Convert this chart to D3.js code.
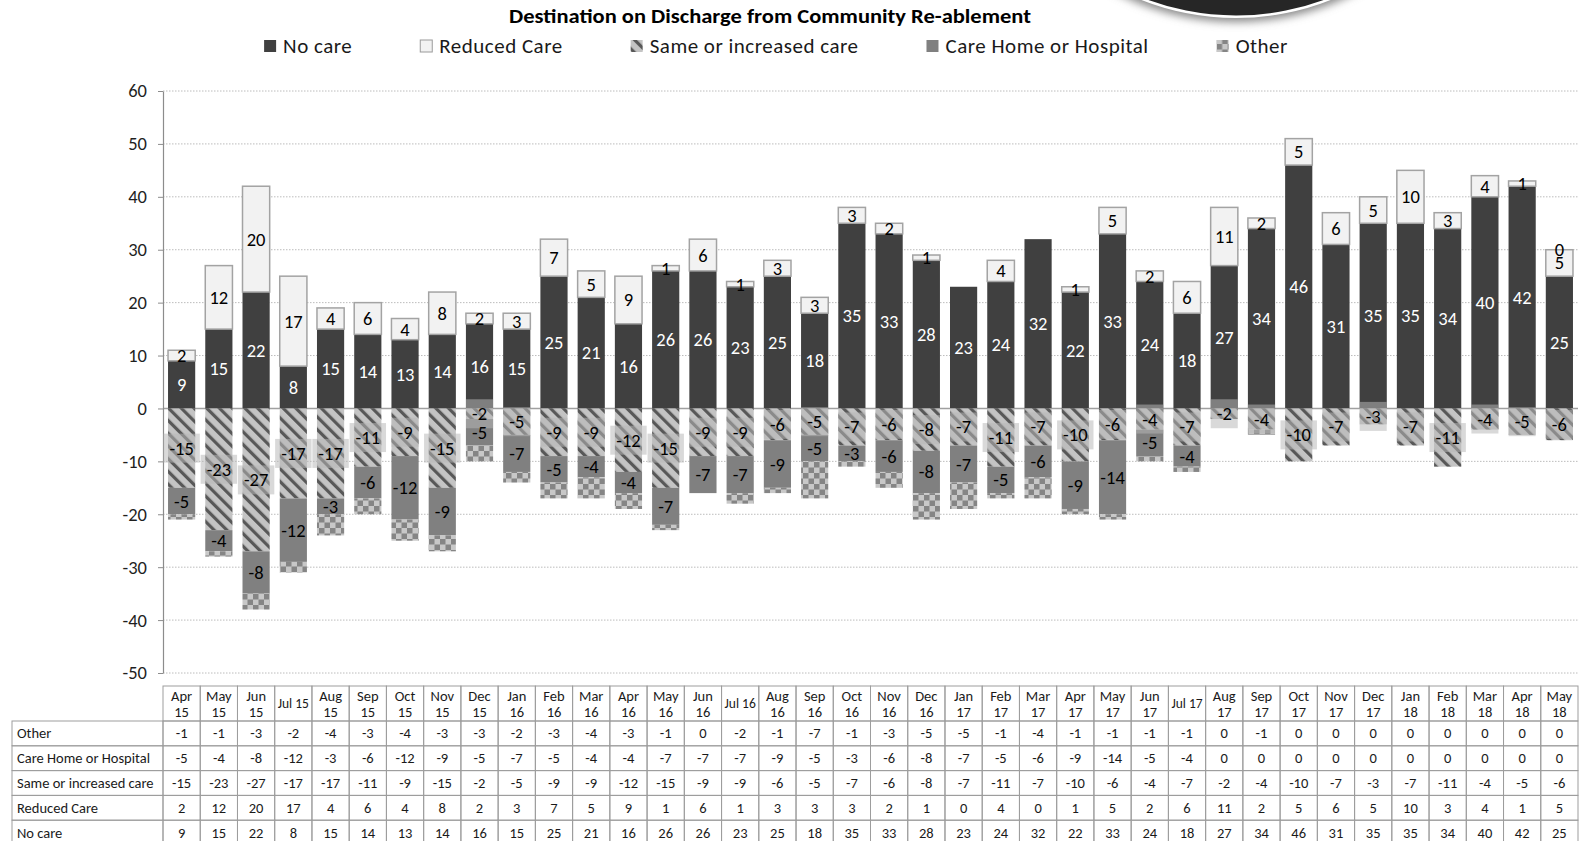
<!DOCTYPE html>
<html><head><meta charset="utf-8">
<script src="https://cdn.jsdelivr.net/npm/d3@7"></script>
<style>
html,body{margin:0;padding:0;background:#fff;}
svg{display:block;font-family:Carlito, Lato, "Open Sans", sans-serif;}
</style></head><body>
<svg id="chart" width="1587" height="841"></svg>
<script>
// ---------------- DATA ----------------
const categories = ["Apr 15","May 15","Jun 15","Jul 15","Aug 15","Sep 15","Oct 15","Nov 15","Dec 15",
  "Jan 16","Feb 16","Mar 16","Apr 16","May 16","Jun 16","Jul 16","Aug 16","Sep 16","Oct 16","Nov 16","Dec 16",
  "Jan 17","Feb 17","Mar 17","Apr 17","May 17","Jun 17","Jul 17","Aug 17","Sep 17","Oct 17","Nov 17","Dec 17",
  "Jan 18","Feb 18","Mar 18","Apr 18","May 18"];
const noCare = [9,15,22,8,15,14,13,14,16,15, 25,21,16,26,26,23,25,18,35,33,28,23,24,32, 22,33,24,18,27,34,46,31,35,35,34,40,42,25];
const reducedCare = [2,12,20,17,4,6,4,8,2,3, 7,5,9,1,6,1,3,3,3,2,1,0,4,0, 1,5,2,6,11,2,5,6,5,10,3,4,1,5];
const sameOrIncreasedCare = [-15,-23,-27,-17,-17,-11,-9,-15,-2,-5, -9,-9,-12,-15,-9,-9,-6,-5,-7,-6,-8,-7,-11,-7, -10,-6,-4,-7,-2,-4,-10,-7,-3,-7,-11,-4,-5,-6];
const careHomeOrHospital = [-5,-4,-8,-12,-3,-6,-12,-9,-5,-7, -5,-4,-4,-7,-7,-7,-9,-5,-3,-6,-8,-7,-5,-6, -9,-14,-5,-4,0,0,0,0,0,0,0,0,0,0];
const other = [-1,-1,-3,-2,-4,-3,-4,-3,-3,-2, -3,-4,-3,-1,0,-2,-1,-7,-1,-3,-5,-5,-1,-4, -1,-1,-1,-1,0,-1,0,0,0,0,0,0,0,0];
// stray zero-valued label that sits on top of the last column in the source
const strayTopLabel = [null,null,null,null,null,null,null,null,null,null,null,null,null,null,null,null,null,null,null,null,null,null,null,null,null,null,null,null,null,null,null,null,null,null,null,null,null,0];
const seriesNames = ["No care","Reduced Care","Same or increased care","Care Home or Hospital","Other"];
const yTicks = [-50,-40,-30,-20,-10,0,10,20,30,40,50,60];
const title = "Destination on Discharge from Community Re-ablement";

// ---------------- SETUP ----------------
const svg = d3.select("#chart");
const defs = svg.append("defs");

const hatch = defs.append("pattern").attr("id","hatch").attr("patternUnits","userSpaceOnUse")
  .attr("width",9).attr("height",9).attr("patternTransform","rotate(-45)");
hatch.append("rect").attr("width",9).attr("height",9).attr("fill","#c4c4c4");
hatch.append("rect").attr("width",3.2).attr("height",9).attr("fill","#585858");

const checker = defs.append("pattern").attr("id","checker").attr("patternUnits","userSpaceOnUse")
  .attr("width",11).attr("height",11);
checker.append("rect").attr("width",11).attr("height",11).attr("fill","#c8c8c8");
checker.append("rect").attr("width",5.5).attr("height",5.5).attr("fill","#858585");
checker.append("rect").attr("x",5.5).attr("y",5.5).attr("width",5.5).attr("height",5.5).attr("fill","#858585");

const shadow = defs.append("filter").attr("id","blur").attr("x","-20%").attr("y","-20%").attr("width","140%").attr("height","140%");
shadow.append("feGaussianBlur").attr("stdDeviation",4);

const styles = {
  "No care": {fill:"#404040", stroke:"none", label:"#ffffff"},
  "Reduced Care": {fill:"#f2f2f2", stroke:"#a3a3a3", label:"#000"},
  "Same or increased care": {fill:"url(#hatch)", stroke:"none", label:"#000"},
  "Care Home or Hospital": {fill:"#808080", stroke:"none", label:"#000"},
  "Other": {fill:"url(#checker)", stroke:"none", label:null}
};

const valuesBySeries = {
  "No care": noCare, "Reduced Care": reducedCare, "Same or increased care": sameOrIncreasedCare,
  "Care Home or Hospital": careHomeOrHospital, "Other": other
};
const rows = categories.map((c,i)=>{
  const r = {cat:c};
  seriesNames.forEach(k=>r[k]=valuesBySeries[k][i]);
  return r;
});
const stacked = d3.stack().keys(seriesNames).offset(d3.stackOffsetDiverging)(rows);

const left = 163, right = 1578;
const x = d3.scaleBand().domain(categories).range([left,right]).paddingInner(0.27).paddingOuter(0.135);
const y = d3.scaleLinear().domain([-50,60]).range([673,91]);

// decoration circle (top right)
const deco = svg.append("g");
deco.append("circle").attr("cx",1236).attr("cy",-240).attr("r",262).attr("fill","#8a8a8a").attr("filter","url(#blur)");
deco.append("circle").attr("cx",1236).attr("cy",-240).attr("r",258).attr("fill","#ffffff");
deco.append("circle").attr("cx",1236).attr("cy",-240).attr("r",255.5).attr("fill","#262626");

// title
svg.append("text").attr("x",770).attr("y",16).attr("text-anchor","middle").attr("dominant-baseline","central")
  .attr("font-size",20).attr("font-weight","bold").attr("fill","#000")
  .attr("textLength",522).attr("lengthAdjust","spacingAndGlyphs").text(title);

// legend
const legend = svg.append("g");
const legItems = legend.selectAll("g").data(seriesNames).join("g");
legItems.append("rect").attr("width",12).attr("height",12).attr("y",40)
  .attr("fill",d=>styles[d].fill).attr("stroke",d=>styles[d].stroke==="none"?"none":"#9a9a9a").attr("stroke-width",1);
legItems.append("text").attr("x",19).attr("y",46).attr("dominant-baseline","central")
  .attr("font-size",21).attr("letter-spacing",0.5).attr("fill","#1a1a1a").text(d=>d);
let widths = [];
legItems.each(function(){ widths.push(d3.select(this).select("text").node().getComputedTextLength()+19); });
const gap = 68;
const totalW = d3.sum(widths) + gap*(widths.length-1);
let lx = 776 - totalW/2;
legItems.attr("transform",(d,i)=>{ const t = `translate(${lx},0)`; lx += widths[i]+gap; return t; });

// grid lines
svg.append("g").selectAll("line").data(yTicks.filter(t=>t!==0)).join("line")
  .attr("x1",left).attr("x2",right).attr("y1",d=>y(d)).attr("y2",d=>y(d))
  .attr("stroke","#bcbcbc").attr("stroke-width",1).attr("stroke-dasharray","1.5,1.5");

// zero line
svg.append("line").attr("x1",left).attr("x2",right).attr("y1",y(0)).attr("y2",y(0))
  .attr("stroke","#a0a0a0").attr("stroke-width",1.5);

// y axis
const yAxis = d3.axisLeft(y).tickValues(yTicks).tickSize(5).tickSizeOuter(0).tickPadding(11).tickFormat(d=>String(d));
const ga = svg.append("g").attr("transform",`translate(${left},0)`).call(yAxis);
ga.select(".domain").attr("stroke","#8c8c8c").attr("stroke-width",1.2);
ga.selectAll(".tick line").attr("stroke","#8c8c8c");
ga.selectAll(".tick text").attr("font-size",18.5).attr("fill","#1f1f1f").attr("font-family","Carlito, Lato, sans-serif");

// bars
const barG = svg.append("g");
stacked.forEach(s=>{
  const st = styles[s.key];
  barG.append("g").selectAll("rect").data(s.filter(d=>d[1]!==d[0])).join("rect")
    .attr("x",d=>x(d.data.cat)).attr("width",x.bandwidth())
    .attr("y",d=>y(Math.max(d[0],d[1]))).attr("height",d=>Math.abs(y(d[0])-y(d[1])))
    .attr("fill",st.fill)
    .attr("stroke",st.stroke).attr("stroke-width",st.stroke==="none"?0:1.5);
});

// labels
const labG = svg.append("g");
stacked.forEach(s=>{
  const st = styles[s.key];
  if(!st.label) return;
  const data = s.filter(d=>d.data[s.key]!==0);
  const grp = labG.append("g");
  const items = grp.selectAll("g").data(data).join("g")
    .attr("transform",d=>`translate(${x(d.data.cat)+x.bandwidth()/2},${y((d[0]+d[1])/2)})`);
  if(s.key==="Same or increased care"){
    items.append("rect").attr("class","lbox");
  }
  items.append("text").attr("text-anchor","middle").attr("dominant-baseline","central")
    .attr("font-size",18.5).attr("fill",st.label).text(d=>d.data[s.key]);
  if(s.key==="Same or increased care"){
    items.each(function(){
      const gsel = d3.select(this);
      const w = gsel.select("text").node().getComputedTextLength()+12;
      gsel.select("rect").attr("x",-w/2).attr("y",-14.5).attr("width",w).attr("height",29)
        .attr("fill","rgb(184,184,184)").attr("fill-opacity",0.53);
    });
  }
});
// stray label on top of positive stack
const topStack = stacked[1];
labG.append("g").selectAll("text").data(strayTopLabel.map((v,i)=>({v,i})).filter(d=>d.v!==null)).join("text")
  .attr("x",d=>x(categories[d.i])+x.bandwidth()/2).attr("y",d=>y(topStack[d.i][1]))
  .attr("text-anchor","middle").attr("dominant-baseline","central").attr("font-size",18.5).attr("fill","#000")
  .text(d=>d.v);

// ---------------- DATA TABLE ----------------
const step = x.step();
const cellX = c => x(c) - step*x.paddingInner()/2;
const tableTop = 686, headH = 35, rowH = 24.8, labelLeft = 12;
const tableRows = seriesNames.slice().reverse();
const tg = svg.append("g").attr("font-size",14.5).attr("fill","#1a1a1a");
const bc = "#9d9d9d";

// header cells
categories.forEach(c=>{
  tg.append("rect").attr("x",cellX(c)).attr("y",tableTop).attr("width",step).attr("height",headH)
    .attr("fill","none").attr("stroke",bc).attr("stroke-width",1);
  const cx = x(c)+x.bandwidth()/2;
  const t = tg.append("text").attr("x",cx).attr("y",tableTop+headH/2).attr("text-anchor","middle")
    .attr("dominant-baseline","central").text(c);
  if(t.node().getComputedTextLength() > step-1){
    t.text(null);
    const parts = c.split(" ");
    t.append("tspan").attr("x",cx).attr("y",tableTop+headH/2-8).text(parts[0]);
    t.append("tspan").attr("x",cx).attr("y",tableTop+headH/2+8.5).text(parts[1]);
  } else {
    t.attr("font-size",13.5);
  }
});
// body
tableRows.forEach((k,ri)=>{
  const ry = tableTop+headH+ri*rowH;
  tg.append("rect").attr("x",labelLeft).attr("y",ry).attr("width",left-labelLeft).attr("height",rowH)
    .attr("fill","none").attr("stroke",bc).attr("stroke-width",1);
  tg.append("text").attr("x",labelLeft+5).attr("y",ry+rowH/2).attr("dominant-baseline","central").text(k);
  categories.forEach((c,ci)=>{
    tg.append("rect").attr("x",cellX(c)).attr("y",ry).attr("width",step).attr("height",rowH)
      .attr("fill","none").attr("stroke",bc).attr("stroke-width",1);
    tg.append("text").attr("x",x(c)+x.bandwidth()/2).attr("y",ry+rowH/2).attr("text-anchor","middle")
      .attr("dominant-baseline","central").text(valuesBySeries[k][ci]);
  });
});
</script>
</body></html>
